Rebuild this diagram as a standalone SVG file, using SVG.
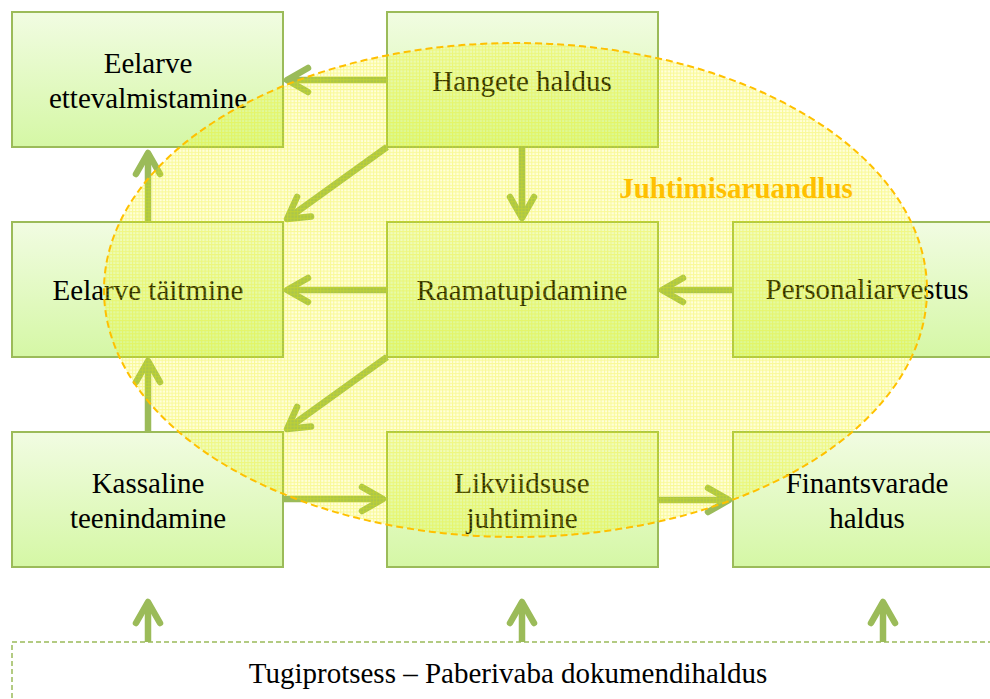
<svg xmlns="http://www.w3.org/2000/svg" width="990" height="699" viewBox="0 0 990 699">
  <defs>
    <linearGradient id="boxFill" x1="0" y1="0" x2="0" y2="1">
      <stop offset="0" stop-color="#f1fce2"/>
      <stop offset="1" stop-color="#d5f7a5"/>
    </linearGradient>
    <pattern id="grid" width="3.3" height="3.3" patternUnits="userSpaceOnUse">
      <rect width="3.3" height="3.3" fill="#ffff00" fill-opacity="0.15"/>
      <path d="M0,0.5 H3.3 M0.5,0 V3.3" stroke="#eeee00" stroke-opacity="0.3" stroke-width="1"/>
    </pattern>
    <marker id="head" viewBox="-28 -16 32 32" refX="0" refY="0" markerWidth="32" markerHeight="32" markerUnits="userSpaceOnUse" orient="auto" overflow="visible">
      <path d="M-21,-12 L0,0 L-21,12" fill="none" stroke="#9bbb59" stroke-width="6.5" stroke-linecap="round" stroke-linejoin="round"/>
    </marker>
  </defs>
  <style>
    .box { fill: url(#boxFill); stroke: #9bbb59; stroke-width: 2; }
    .lbl { font-size: 29px; fill: #000; text-anchor: middle; }
    .arrow { fill: none; stroke: #9bbb59; stroke-width: 6.5; marker-end: url(#head); }
    .title { font-size: 29px; font-weight: bold; fill: #ffc000; text-anchor: middle; }
  </style>

  <rect width="990" height="699" fill="#ffffff"/>

  <g font-family="'Liberation Serif', 'Times New Roman', 'DejaVu Serif', serif">
  <!-- process boxes -->
  <g id="eelarve-ettevalmistamine">
    <rect class="box" x="12" y="12" width="271" height="135"/>
    <text class="lbl" x="148" y="73">Eelarve</text>
    <text class="lbl" x="148" y="108">ettevalmistamine</text>
  </g>
  <g id="hangete-haldus">
    <rect class="box" x="387" y="12" width="271" height="135"/>
    <text class="lbl" x="522" y="91">Hangete haldus</text>
  </g>
  <g id="eelarve-taitmine">
    <rect class="box" x="12" y="222" width="271" height="135"/>
    <text class="lbl" x="148" y="300">Eelarve täitmine</text>
  </g>
  <g id="raamatupidamine">
    <rect class="box" x="387" y="222" width="271" height="135"/>
    <text class="lbl" x="522" y="300">Raamatupidamine</text>
  </g>
  <g id="personaliarvestus">
    <rect class="box" x="733" y="222" width="271" height="135"/>
    <text class="lbl" x="867" y="299">Personaliarvestus</text>
  </g>
  <g id="kassaline-teenindamine">
    <rect class="box" x="12" y="432" width="271" height="135"/>
    <text class="lbl" x="148" y="493">Kassaline</text>
    <text class="lbl" x="148" y="528">teenindamine</text>
  </g>
  <g id="likviidsuse-juhtimine">
    <rect class="box" x="387" y="432" width="271" height="135"/>
    <text class="lbl" x="522" y="493">Likviidsuse</text>
    <text class="lbl" x="522" y="528">juhtimine</text>
  </g>
  <g id="finantsvarade-haldus">
    <rect class="box" x="733" y="432" width="271" height="135"/>
    <text class="lbl" x="867" y="493">Finantsvarade</text>
    <text class="lbl" x="867" y="528">haldus</text>
  </g>

  <!-- support process band -->
  <g id="tugiprotsess">
    <rect x="12" y="642" width="1000" height="80" fill="none" stroke="#9bbb59" stroke-width="1.5" stroke-dasharray="5 3"/>
    <text class="lbl" x="508" y="683">Tugiprotsess – Paberivaba dokumendihaldus</text>
  </g>

  <!-- connectors -->
  <g id="connectors">
    <path class="arrow" d="M387,80 H287"/>
    <path class="arrow" d="M387,147 L287,219"/>
    <path class="arrow" d="M522,147 V218"/>
    <path class="arrow" d="M148,222 V153"/>
    <path class="arrow" d="M387,290 H287"/>
    <path class="arrow" d="M733,290 H662"/>
    <path class="arrow" d="M387,357 L287,429"/>
    <path class="arrow" d="M148,432 V361"/>
    <path class="arrow" d="M283,499 H383"/>
    <path class="arrow" d="M658,500 H729"/>
    <path class="arrow" d="M148,642 V602"/>
    <path class="arrow" d="M522,642 V602"/>
    <path class="arrow" d="M883,642 V602"/>
  </g>

  <!-- management reporting overlay -->
  <g id="juhtimisaruandlus">
    <ellipse cx="515.5" cy="290" rx="411.5" ry="247" fill="url(#grid)" stroke="#ffc000" stroke-width="2" stroke-dasharray="7 4"/>
    <text class="title" x="736" y="198">Juhtimisaruandlus</text>
  </g>
  </g>
</svg>
